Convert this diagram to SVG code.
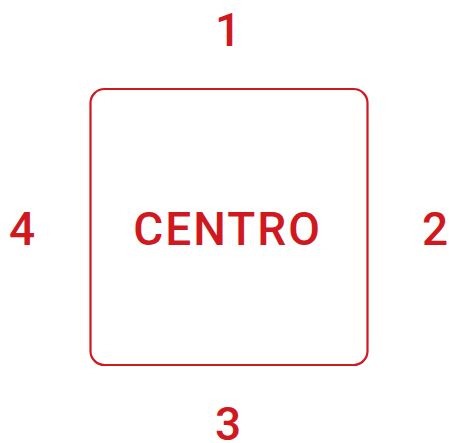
<svg xmlns="http://www.w3.org/2000/svg" width="449" height="443" viewBox="0 0 449 443">
<style>
.t{font-family:Roboto,"Liberation Sans",sans-serif;font-weight:500;font-size:46px;fill:#d0191f;text-anchor:middle}
.c{letter-spacing:2px}
.b{fill:none;stroke:#d0191f;stroke-width:2.2}
</style>
<rect width="449" height="443" fill="#fff"/>
<g id="center"><rect class="b" x="90.5" y="89" width="277" height="276" rx="14"/><text class="t c" x="227.5" y="245">CENTRO</text></g>
<g id="n1"><text class="t" x="228" y="46">1</text></g>
<g id="n2"><text class="t" x="435" y="245">2</text></g>
<g id="n3"><text class="t" x="228" y="440">3</text></g>
<g id="n4"><text class="t" x="22" y="245">4</text></g>
<g id="connectors"/>
</svg>
